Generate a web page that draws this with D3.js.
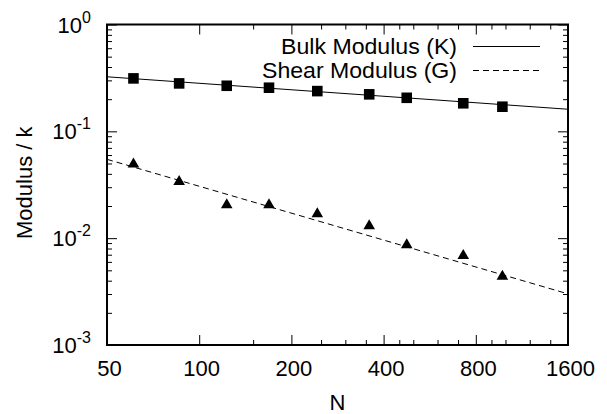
<!DOCTYPE html>
<html>
<head>
<meta charset="utf-8">
<script src="https://cdn.jsdelivr.net/npm/d3@7"></script>
<style>
    body { margin: 0; background: #fff; }
    text { font-family: "Liberation Sans", Arial, Helvetica, sans-serif; fill: #000; }
</style>
</head>
<body>
<div id="chart"></div>
<script>
// Data
const sizes = [61, 86, 123, 169, 243, 359, 476, 728, 977];
const bulkValues = [0.313, 0.281, 0.267, 0.256, 0.238, 0.222, 0.206, 0.183, 0.170];
const shearValues = [0.0492, 0.0338, 0.0205, 0.0205, 0.0169, 0.0130, 0.00865, 0.00687, 0.00438];

// fitted power laws, straight on log-log so two end points each
const fitSizes = [50, 1600];
const fitBulk = [0.324, 0.161];
const fitShear = [0.0547, 0.00301];

const xMajorTicks = [50, 100, 200, 400, 800, 1600];
const xMinorTicks = [150, 250, 300, 350, 450, 500, 600, 700, 900, 1000, 1200, 1400];
const yMajorTicks = [1e-3, 1e-2, 1e-1, 1];
const yTickExponents = ['-3', '-2', '-1', '0'];
const yMinorTicks = [];
[1e-3, 1e-2, 1e-1].forEach(dec => {
    for (let k = 2; k <= 9; k++) yMinorTicks.push(dec * k);
});

const legendLabels = ['Bulk Modulus (K)', 'Shear Modulus (G)'];

// Dimensions
const dimensions = {
    width: 607,
    height: 414,
    left: 107,
    right: 568,
    top: 24.5,
    bottom: 345,
};

const svg = d3.select('#chart')
    .append('svg')
    .attr('width', dimensions.width)
    .attr('height', dimensions.height);

// Scales
const xScale = d3.scaleLog()
    .domain([50, 1600])
    .range([dimensions.left, dimensions.right]);

const yScale = d3.scaleLog()
    .domain([1e-3, 1])
    .range([dimensions.bottom, dimensions.top]);

// Axes (ticks point inward, like gnuplot)
function tickGroup(axis, transform) {
    const g = svg.append('g')
        .attr('transform', transform)
        .call(axis);
    g.select('.domain').remove();
    g.selectAll('line').attr('stroke', '#000').attr('stroke-width', 1);
    return g;
}

const bottomLabels = tickGroup(
    d3.axisBottom(xScale).tickValues(xMajorTicks).tickSizeInner(-10).tickSizeOuter(0)
        .tickPadding(15).tickFormat(d3.format('d')),
    `translate(0, ${dimensions.bottom})`);
bottomLabels.selectAll('text')
    .attr('font-size', 22)
    .attr('font-family', '"Liberation Sans", Arial, sans-serif')
    .attr('dx', 2);

tickGroup(d3.axisBottom(xScale).tickValues(xMinorTicks).tickSizeInner(-5).tickSizeOuter(0).tickFormat(''),
    `translate(0, ${dimensions.bottom})`);
tickGroup(d3.axisTop(xScale).tickValues(xMajorTicks).tickSizeInner(-10).tickSizeOuter(0).tickFormat(''),
    `translate(0, ${dimensions.top})`);
tickGroup(d3.axisTop(xScale).tickValues(xMinorTicks).tickSizeInner(-5).tickSizeOuter(0).tickFormat(''),
    `translate(0, ${dimensions.top})`);

tickGroup(d3.axisLeft(yScale).tickValues(yMajorTicks).tickSizeInner(-10).tickSizeOuter(0).tickFormat(''),
    `translate(${dimensions.left}, 0)`);
tickGroup(d3.axisLeft(yScale).tickValues(yMinorTicks).tickSizeInner(-5).tickSizeOuter(0).tickFormat(''),
    `translate(${dimensions.left}, 0)`);
tickGroup(d3.axisRight(yScale).tickValues(yMajorTicks).tickSizeInner(-10).tickSizeOuter(0).tickFormat(''),
    `translate(${dimensions.right}, 0)`);
tickGroup(d3.axisRight(yScale).tickValues(yMinorTicks).tickSizeInner(-5).tickSizeOuter(0).tickFormat(''),
    `translate(${dimensions.right}, 0)`);

// y tick labels with superscript exponents
yMajorTicks.forEach((v, i) => {
    const t = svg.append('text')
        .attr('x', dimensions.left - 16)
        .attr('y', yScale(v) + 8)
        .attr('text-anchor', 'end')
        .attr('font-size', 22);
    t.append('tspan').text('10');
    t.append('tspan')
        .attr('font-size', 16)
        .attr('dy', -10)
        .text(yTickExponents[i]);
});

// Fit lines
const fitLine = d3.line()
    .x(d => xScale(d[0]))
    .y(d => yScale(d[1]));

svg.append('path')
    .datum(d3.zip(fitSizes, fitBulk))
    .attr('d', fitLine)
    .attr('fill', 'none')
    .attr('stroke', '#000')
    .attr('stroke-width', 1);

svg.append('path')
    .datum(d3.zip(fitSizes, fitShear))
    .attr('d', fitLine)
    .attr('fill', 'none')
    .attr('stroke', '#000')
    .attr('stroke-width', 1)
    .attr('stroke-dasharray', '6,4');

// Points
const square = d3.symbol().type(d3.symbolSquare).size(112);
const triangle = d3.symbol().type(d3.symbolTriangle).size(58);

svg.append('g')
    .selectAll('path')
    .data(d3.zip(sizes, bulkValues))
    .join('path')
    .attr('d', square)
    .attr('transform', d => `translate(${xScale(d[0])}, ${yScale(d[1])})`)
    .attr('fill', '#000');

svg.append('g')
    .selectAll('path')
    .data(d3.zip(sizes, shearValues))
    .join('path')
    .attr('d', triangle)
    .attr('transform', d => `translate(${xScale(d[0])}, ${yScale(d[1])})`)
    .attr('fill', '#000');

// Frame
svg.append('rect')
    .attr('x', dimensions.left)
    .attr('y', dimensions.top)
    .attr('width', dimensions.right - dimensions.left)
    .attr('height', dimensions.bottom - dimensions.top)
    .attr('fill', 'none')
    .attr('stroke', '#000')
    .attr('stroke-width', 2);

// Legend
const legendY = [54, 78];
legendLabels.forEach((label, i) => {
    svg.append('text')
        .attr('x', 457)
        .attr('y', legendY[i])
        .attr('text-anchor', 'end')
        .attr('font-size', 21.5)
        .attr('textLength', i === 0 ? 176 : 195)
        .attr('lengthAdjust', 'spacingAndGlyphs')
        .text(label);
    svg.append('line')
        .attr('x1', 473)
        .attr('x2', 540)
        .attr('y1', legendY[i] - 7.5)
        .attr('y2', legendY[i] - 7.5)
        .attr('stroke', '#000')
        .attr('stroke-width', 1)
        .attr('stroke-dasharray', i === 1 ? '6,4' : null);
});

// Axis titles
svg.append('text')
    .attr('x', (dimensions.left + dimensions.right) / 2)
    .attr('y', 410)
    .attr('text-anchor', 'middle')
    .attr('font-size', 22)
    .text('N');

svg.append('text')
    .attr('transform', `translate(32, ${(dimensions.top + dimensions.bottom) / 2 - 2}) rotate(-90)`)
    .attr('text-anchor', 'middle')
    .attr('font-size', 22)
    .text('Modulus / k');
</script>
</body>
</html>
